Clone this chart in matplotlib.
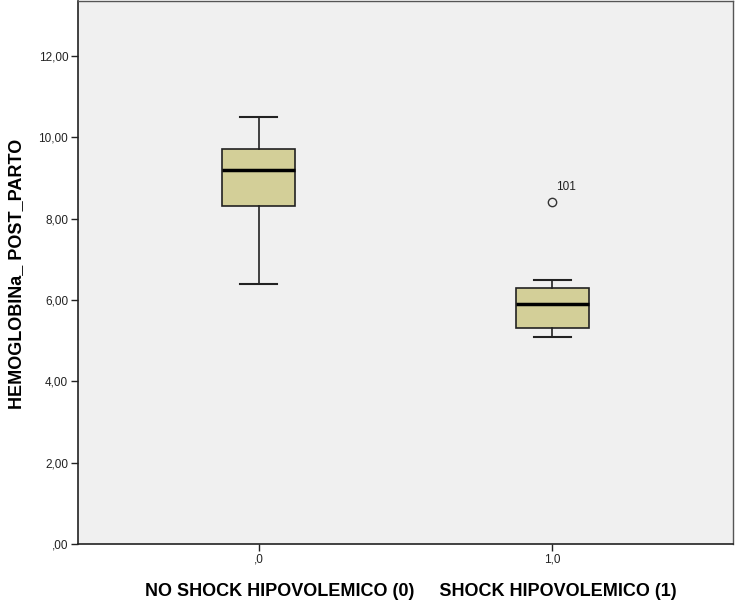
import matplotlib
matplotlib.use("Agg")
import matplotlib.pyplot as plt

plt.rcParams['font.family'] = ['Liberation Sans', 'DejaVu Sans']

categories = [",0", "1,0"]
whisker_low = [6.4, 5.1]
q1 = [8.32, 5.32]
median = [9.2, 5.91]
q3 = [9.72, 6.3]
whisker_high = [10.5, 6.5]
outliers = [[], [8.42]]
outlier_labels = [[], ["101"]]
yticks = [0, 2, 4, 6, 8, 10, 12]
ytick_labels = [",00", "2,00", "4,00", "6,00", "8,00", "10,00", "12,00"]

fig = plt.figure(figsize=(7.4, 6.03), dpi=100)
ax = fig.add_axes([78/740, 59/603, (733-78)/740, (603-59-1)/603])
ax.set_facecolor('#F0F0F0')

stats = []
for i in range(len(categories)):
    stats.append(dict(med=median[i], q1=q1[i], q3=q3[i], whislo=whisker_low[i],
                      whishi=whisker_high[i], fliers=outliers[i], label=categories[i]))

ax.bxp(stats, positions=range(len(categories)), widths=0.25, patch_artist=True,
       boxprops=dict(facecolor='#D3CF98', edgecolor='#222222', linewidth=1.2),
       medianprops=dict(color='black', linewidth=2.5),
       whiskerprops=dict(color='#222222', linewidth=1.2),
       capprops=dict(color='#222222', linewidth=1.5),
       capwidths=0.127,
       flierprops=dict(marker='o', markerfacecolor='none', markeredgecolor='#333333',
                       markersize=6, markeredgewidth=1.0))

for i, (vals, labs) in enumerate(zip(outliers, outlier_labels)):
    for v, l in zip(vals, labs):
        ax.annotate(l, (i, v), xytext=(3, 8), textcoords='offset points',
                    fontsize=8.5, color='#222222')

ax.set_xlim(-0.615, 1.615)
ax.set_ylim(0, 13.35)
ax.set_yticks(yticks)
ax.set_yticklabels(ytick_labels, fontsize=8.5, color='#222222')
ax.set_xticks(range(len(categories)))
ax.set_xticklabels(categories, fontsize=8.5, color='#222222')
ax.tick_params(axis='both', direction='out', length=5, width=1, color='#222222')
ax.tick_params(axis='x', pad=2)
ax.tick_params(axis='y', pad=2)

for s in ['left', 'bottom']:
    ax.spines[s].set_color('#222222')
    ax.spines[s].set_linewidth(1.2)
for s in ['top', 'right']:
    ax.spines[s].set_color('#555555')
    ax.spines[s].set_linewidth(1.0)

ax.set_ylabel("HEMOGLOBINa_ POST_PARTO", fontsize=13, fontweight='bold', va='center')
ax.yaxis.set_label_coords((16.5-78)/655, (544-273)/544)
ax.set_xlabel("NO SHOCK HIPOVOLEMICO (0)     SHOCK HIPOVOLEMICO (1)", fontsize=13,
              fontweight='bold', va='center')
ax.xaxis.set_label_coords((410.5-78)/655, (544-592)/544)

fig.savefig("out.png", dpi=100, facecolor='white')
